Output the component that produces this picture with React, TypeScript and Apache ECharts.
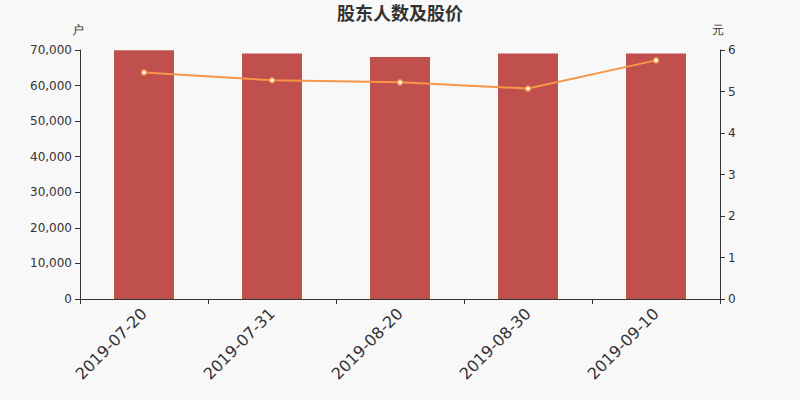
import { useEffect, useRef } from 'react'
import * as echarts from 'echarts'

const categories = ['2019-07-20', '2019-07-31', '2019-08-20', '2019-08-30', '2019-09-10']
const holders = [69950, 69000, 68050, 69000, 69000]
const prices = [5.46, 5.27, 5.22, 5.07, 5.75]

export default function App() {
  const chartRef = useRef<HTMLDivElement>(null)

  useEffect(() => {
    document.body.style.margin = '0'
    if (!chartRef.current) return
    const chart = echarts.init(chartRef.current, null, { renderer: 'svg' })

    const axisText = { color: '#333', fontSize: 12, fontFamily: 'DejaVu Sans, sans-serif' }

    chart.setOption({
      animation: false,
      backgroundColor: '#f8f8f8',
      title: {
        text: '股东人数及股价',
        left: 'center',
        top: -2,
        textStyle: { color: '#333', fontSize: 18, fontWeight: 'bold', fontFamily: 'Noto Sans CJK SC, sans-serif' },
      },
      grid: { left: 80, right: 80, top: 50, bottom: 101 },
      xAxis: {
        type: 'category',
        data: categories,
        axisLine: { lineStyle: { color: '#333' } },
        axisTick: { show: true, lineStyle: { color: '#333' } },
        axisLabel: { rotate: 45, color: '#333', fontSize: 16, margin: 12, fontFamily: 'DejaVu Sans, sans-serif' },
      },
      yAxis: [
        {
          type: 'value',
          name: '户',
          min: 0,
          max: 70000,
          interval: 10000,
          nameGap: 14,
          nameTextStyle: { color: '#333', fontSize: 12, align: 'center', padding: [0, 4, 0, 0] },
          axisLine: { show: true, lineStyle: { color: '#333' } },
          axisTick: { show: true, lineStyle: { color: '#333' } },
          axisLabel: { ...axisText, formatter: (v: number) => v.toLocaleString('en-US') },
          splitLine: { show: false },
        },
        {
          type: 'value',
          name: '元',
          min: 0,
          max: 6,
          interval: 1,
          position: 'right',
          nameGap: 14,
          nameTextStyle: { color: '#333', fontSize: 12, align: 'center', padding: [0, 4, 0, 0] },
          axisLine: { show: true, lineStyle: { color: '#333' } },
          axisTick: { show: true, lineStyle: { color: '#333' } },
          axisLabel: axisText,
          splitLine: { show: false },
        },
      ],
      series: [
        {
          type: 'bar',
          data: holders,
          barWidth: 60,
          itemStyle: { color: '#c0504d' },
        },
        {
          type: 'line',
          yAxisIndex: 1,
          data: prices,
          symbol: 'circle',
          symbolSize: 5,
          lineStyle: { color: '#f79646', width: 2 },
          itemStyle: { color: '#fff', borderColor: '#f79646', borderWidth: 1.5 },
        },
      ],
    })

    return () => chart.dispose()
  }, [])

  return <div ref={chartRef} style={{ width: 800, height: 400 }} />
}
